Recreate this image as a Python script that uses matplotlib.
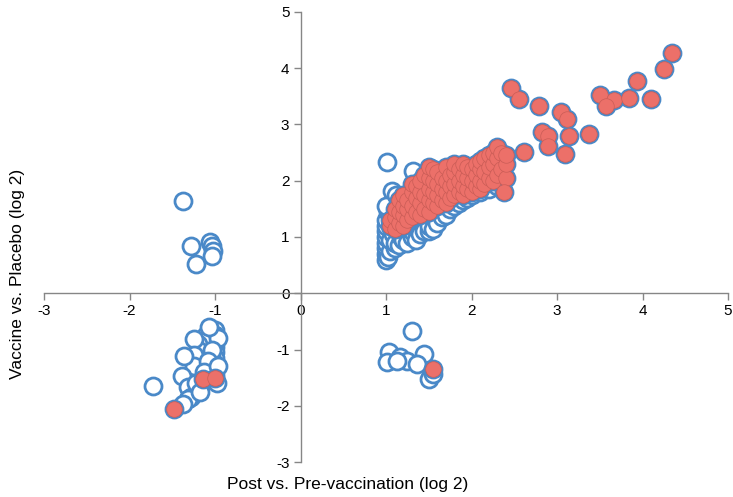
import matplotlib.pyplot as plt

# open (blue) points
blue_x = [1.0, 1.0, 1.0, 1.0, 1.0, 1.0, 1.0, 1.0, 1.02, 1.05, 1.05, 1.08, 1.1, 1.1, 1.12,
          1.15, 1.18, 1.2, 1.22, 1.25, 1.3, 1.3, 1.35, 1.4, 1.45, 1.5, 1.5, 1.55, 1.6, 1.65,
          1.7, 1.75, 1.8, 1.85, 1.9, 1.95, 2.0, 2.1, 2.2, 2.3, 1.02, 1.05, 1.1, 1.07, 1.32,
          1.01, 1.2, 1.3, 1.0, 1.12,
          -1.0, -1.0, -1.0, -1.0, -1.0, -1.0, -1.0, -1.0, -1.0, -1.0,
          -1.05, -1.05, -1.05, -1.05, -1.05,
          -1.1, -1.1, -1.1, -1.1, -1.1,
          -1.15, -1.15, -1.15, -1.15,
          -1.2, -1.2, -1.2, -1.2,
          -1.25, -1.25, -1.25,
          -1.36, -1.39, -1.31, -1.28, -1.31, -1.37, -1.72, -0.98, -1.22, -1.18,
          -0.97, -1.03, -1.08, -1.13, -0.96, -1.07,
          -1.37, -1.28, -1.22, -1.06, -1.04, -1.02, -1.04,
          1.30, 1.03, 1.01, 1.16, 1.24, 1.13, 1.45, 1.50, 1.55, 1.36]
blue_y = [0.6, 0.7, 0.8, 0.9, 1.0, 1.1, 1.2, 1.3, 0.65, 0.75, 0.95, 1.05, 0.8, 0.9, 1.15,
          0.85, 1.0, 0.95, 1.1, 0.9, 1.0, 1.1, 0.95, 1.05, 1.1, 1.1, 1.2, 1.15, 1.25, 1.35,
          1.4, 1.5, 1.55, 1.6, 1.65, 1.7, 1.75, 1.8, 1.85, 1.9, 1.45, 1.5, 1.6, 1.82, 2.17,
          2.33, 1.45, 1.55, 1.55, 1.75,
          -0.65, -0.75, -0.85, -0.95, -1.05, -1.15, -1.25, -1.35, -1.45, -1.55,
          -0.7, -0.9, -1.1, -1.3, -1.5,
          -0.75, -0.95, -1.15, -1.35, -1.55,
          -0.85, -1.05, -1.25, -1.45,
          -0.9, -1.0, -1.2, -1.4,
          -0.82, -1.1, -1.3,
          -1.12, -1.47, -1.67, -1.85, -1.88, -1.97, -1.65, -1.6, -1.6, -1.75,
          -0.8, -1.0, -1.2, -1.4, -1.3, -0.6,
          1.64, 0.84, 0.52, 0.92, 0.84, 0.75, 0.66,
          -0.67, -1.05, -1.23, -1.14, -1.21, -1.21, -1.08, -1.53, -1.44, -1.26]

# filled (red) points
red_x = [1.05, 1.05, 1.1, 1.1, 1.1, 1.15, 1.15, 1.15, 1.2, 1.2, 1.2, 1.2, 1.25, 1.25, 1.25,
         1.3, 1.3, 1.3, 1.3, 1.35, 1.35, 1.35, 1.4, 1.4, 1.4, 1.4, 1.45, 1.45, 1.45,
         1.5, 1.5, 1.5, 1.5, 1.5, 1.55, 1.55, 1.55, 1.55, 1.6, 1.6, 1.6, 1.6,
         1.65, 1.65, 1.65, 1.7, 1.7, 1.7, 1.7, 1.75, 1.75, 1.75, 1.8, 1.8, 1.8, 1.8,
         1.85, 1.85, 1.85, 1.9, 1.9, 1.9, 1.9, 1.95, 1.95, 1.95, 2.0, 2.0, 2.0,
         2.05, 2.05, 2.05, 2.1, 2.1, 2.1, 2.1, 2.15, 2.15, 2.15, 2.2, 2.2, 2.2,
         2.25, 2.25, 2.25, 2.3, 2.3, 2.3, 2.35, 2.35, 2.4, 2.4, 2.4, 2.38,
         4.34, 4.25, 3.94, 3.50, 3.67, 3.57, 3.84, 4.10, 2.46, 2.56, 2.79, 3.05, 3.12,
         2.82, 2.90, 2.89, 3.14, 3.37, 3.09, 2.61,
         -1.48, -1.14, -1.0, 1.55]
red_y = [1.2, 1.3, 1.15, 1.35, 1.5, 1.25, 1.45, 1.65, 1.2, 1.4, 1.55, 1.75, 1.3, 1.5, 1.65,
         1.35, 1.55, 1.8, 1.95, 1.45, 1.7, 1.9, 1.4, 1.6, 1.8, 2.0, 1.5, 1.75, 2.1,
         1.45, 1.65, 1.85, 2.05, 2.25, 1.6, 1.8, 2.0, 2.2, 1.55, 1.75, 1.95, 2.15,
         1.65, 1.85, 2.05, 1.6, 1.8, 2.0, 2.25, 1.7, 1.9, 2.1, 1.75, 1.95, 2.15, 2.3,
         1.8, 2.0, 2.2, 1.75, 1.9, 2.1, 2.3, 1.85, 2.05, 2.25, 1.8, 2.0, 2.2,
         1.9, 2.1, 2.3, 1.85, 2.0, 2.2, 2.35, 1.95, 2.15, 2.4, 2.05, 2.25, 2.45,
         2.0, 2.3, 2.5, 2.1, 2.4, 2.6, 2.2, 2.5, 2.05, 2.3, 2.45, 1.8,
         4.27, 3.99, 3.78, 3.52, 3.44, 3.33, 3.47, 3.46, 3.65, 3.46, 3.33, 3.22, 3.09,
         2.87, 2.80, 2.61, 2.79, 2.83, 2.47, 2.51,
         -2.06, -1.53, -1.5, -1.35]

xticks = [-3, -2, -1, 0, 1, 2, 3, 4, 5]
yticks = [-3, -2, -1, 0, 1, 2, 3, 4, 5]

blue = '#4A89C8'
red = '#EC7069'

fig = plt.figure(figsize=(7.33, 4.97), dpi=100)
ax = fig.add_axes([44 / 733, 35 / 497, 684 / 733, 450 / 497])

# every point has the blue open ring; red points get a filled disc on top
ax.scatter(blue_x + red_x, blue_y + red_y, s=150, facecolors='white', edgecolors=blue,
           linewidths=2.0, zorder=3)
ax.scatter(red_x, red_y, s=125, facecolors=red, edgecolors='#C95C56', linewidths=0.5, zorder=4)

ax.set_xlim(-3, 5)
ax.set_ylim(-3, 5)
ax.set_xticks(xticks)
ax.set_yticks(yticks)
ax.set_xticklabels([str(t) for t in xticks])
ax.set_yticklabels([str(t) for t in yticks])

for side in ['top', 'right']:
    ax.spines[side].set_visible(False)
ax.spines['left'].set_position(('data', 0))
ax.spines['bottom'].set_position(('data', 0))
for side in ['left', 'bottom']:
    ax.spines[side].set_color('#868686')
    ax.spines[side].set_linewidth(1.0)
ax.tick_params(direction='out', length=5, width=1, color='#868686',
               labelsize=11, pad=3)
for lab in ax.get_xticklabels() + ax.get_yticklabels():
    lab.set_family(['Liberation Sans', 'DejaVu Sans'])
ax.patch.set_alpha(0)

fig.text(348 / 733, 1 - 484 / 497, 'Post vs. Pre-vaccination (log 2)', ha='center', va='center',
         fontsize=12.5, family=['Liberation Sans', 'DejaVu Sans'])
fig.text(18 / 733, 1 - 274 / 497, 'Vaccine vs. Placebo (log 2)', ha='center', va='center',
         rotation=90, fontsize=12.5, family=['Liberation Sans', 'DejaVu Sans'])

fig.savefig('out.png', dpi=100)
